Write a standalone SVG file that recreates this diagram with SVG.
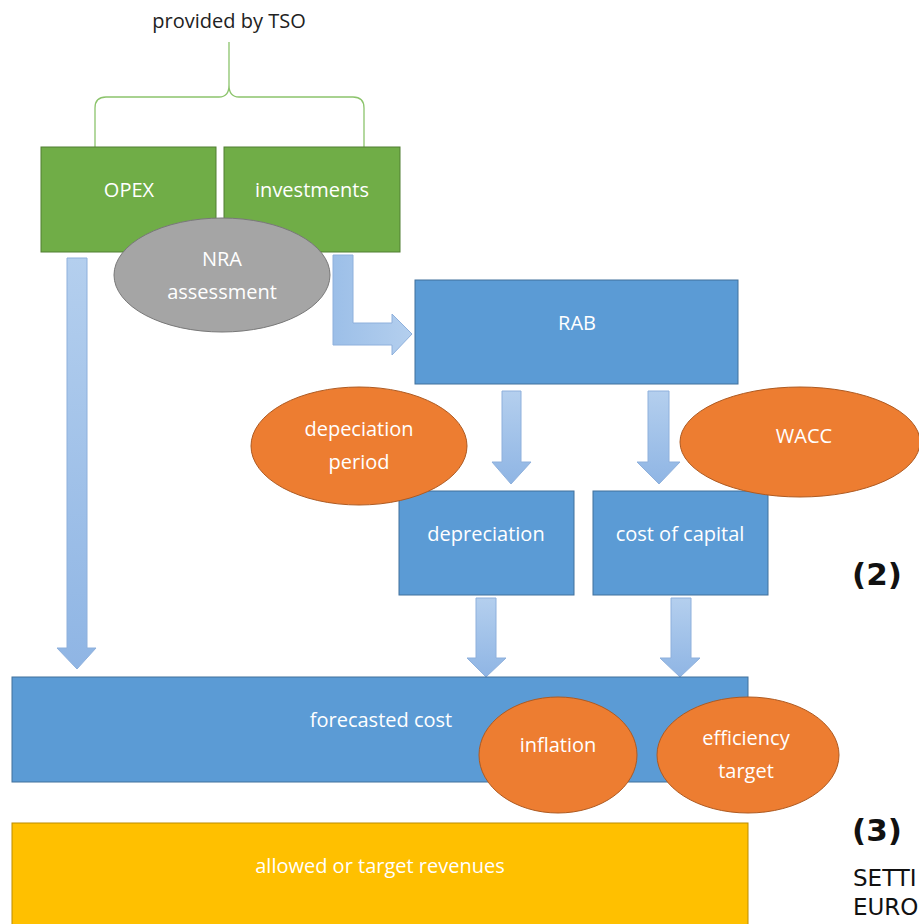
<svg xmlns="http://www.w3.org/2000/svg" width="919" height="924" viewBox="0 0 919 924">
<defs>
<linearGradient id="ag" x1="0" y1="0" x2="0" y2="1">
<stop offset="0" stop-color="#b4cfee"/>
<stop offset="1" stop-color="#8fb5e4"/>
</linearGradient>
<linearGradient id="agh" x1="0" y1="0" x2="1" y2="0">
<stop offset="0" stop-color="#9cbfe8"/>
<stop offset="1" stop-color="#b4cfee"/>
</linearGradient>
<style>
.g{fill:#70ad47;stroke:#507e32;stroke-width:1}
.b{fill:#5b9bd5;stroke:#41719c;stroke-width:1}
.o{fill:#ed7d31;stroke:#ae5a21;stroke-width:1}
.gr{fill:#a5a5a5;stroke:#787878;stroke-width:1}
.y{fill:#ffc000;stroke:#bc8c00;stroke-width:1}
.ar{fill:url(#ag);stroke:#8eb0dc;stroke-width:1}
.t{font-family:"Open Sans","Liberation Sans",sans-serif;font-size:20px;fill:#ffffff;text-anchor:middle}
.k{font-family:"Open Sans","Liberation Sans",sans-serif;font-size:20px;fill:#222222;text-anchor:middle}
.n{font-family:"DejaVu Sans",Verdana,sans-serif;font-size:31px;font-weight:bold;fill:#111111}
.s{font-family:"DejaVu Sans",Verdana,sans-serif;font-size:23px;fill:#111111}
</style>
</defs>
<rect width="919" height="924" fill="#ffffff"/>

<g id="label-tso">
<text class="k" x="229" y="28">provided by TSO</text>
<path d="M95,147 L95,108 Q95,97 106,97 L219,97 Q229,97 229,85 L229,42 M229,85 Q229,97 239,97 L353,97 Q364,97 364,108 L364,147" fill="none" stroke="#8cc46c" stroke-width="1.3"/>
</g>

<g id="connectors">
<path class="ar" d="M67,258 L87,258 L87,648 L96,648 L77,669 L57,648 L67,648 Z"/>
<path d="M333,255 L353,255 L353,323 L392,323 L392,314 L412,334 L392,355 L392,345 L333,345 Z" fill="url(#agh)" stroke="#8eb0dc" stroke-width="1"/>
<path class="ar" d="M502,391 L521,391 L521,462 L531,462 L511,484 L492,462 L502,462 Z"/>
<path class="ar" d="M648,391 L669,391 L669,462 L680,462 L659,484 L637,462 L648,462 Z"/>
<path class="ar" d="M476,598 L496,598 L496,658 L506,658 L486,677 L467,658 L476,658 Z"/>
<path class="ar" d="M671,598 L691,598 L691,658 L700,658 L680,677 L660,658 L671,658 Z"/>
</g>

<g id="opex">
<rect class="g" x="41" y="147" width="175" height="105"/>
<text class="t" x="129" y="197">OPEX</text>
</g>
<g id="investments">
<rect class="g" x="224" y="147" width="176" height="105"/>
<text class="t" x="312" y="197">investments</text>
</g>
<g id="nra">
<ellipse class="gr" cx="222" cy="275" rx="108" ry="57"/>
<text class="t" x="222" y="266">NRA</text>
<text class="t" x="222" y="299">assessment</text>
</g>
<g id="rab">
<rect class="b" x="415" y="280" width="323" height="104"/>
<text class="t" x="577" y="330">RAB</text>
</g>
<g id="depreciation">
<rect class="b" x="399" y="491" width="175" height="104"/>
<text class="t" x="486" y="541">depreciation</text>
</g>
<g id="cost-of-capital">
<rect class="b" x="593" y="491" width="175" height="104"/>
<text class="t" x="680" y="541">cost of capital</text>
</g>
<g id="depreciation-period">
<ellipse class="o" cx="359" cy="446" rx="108" ry="59"/>
<text class="t" x="359" y="436">depeciation</text>
<text class="t" x="359" y="469">period</text>
</g>
<g id="wacc">
<ellipse class="o" cx="800" cy="442" rx="120" ry="55"/>
<text class="t" x="804" y="443">WACC</text>
</g>
<g id="forecasted-cost">
<rect class="b" x="12" y="677" width="736" height="105"/>
<text class="t" x="381" y="727">forecasted cost</text>
</g>
<g id="inflation">
<ellipse class="o" cx="558" cy="755" rx="79" ry="58"/>
<text class="t" x="558" y="752">inflation</text>
</g>
<g id="efficiency-target">
<ellipse class="o" cx="748" cy="755" rx="91" ry="58"/>
<text class="t" x="746" y="745">efficiency</text>
<text class="t" x="746" y="778">target</text>
</g>
<g id="allowed-revenues">
<rect class="y" x="12" y="823" width="736" height="110"/>
<text class="t" x="380" y="873">allowed or target revenues</text>
</g>

<g id="side-text">
<text class="n" x="852" y="585">(2)</text>
<text class="n" x="852" y="841">(3)</text>
<text class="s" x="853" y="886">SETTI</text>
<text class="s" x="853" y="915">EURO</text>
</g>
</svg>
